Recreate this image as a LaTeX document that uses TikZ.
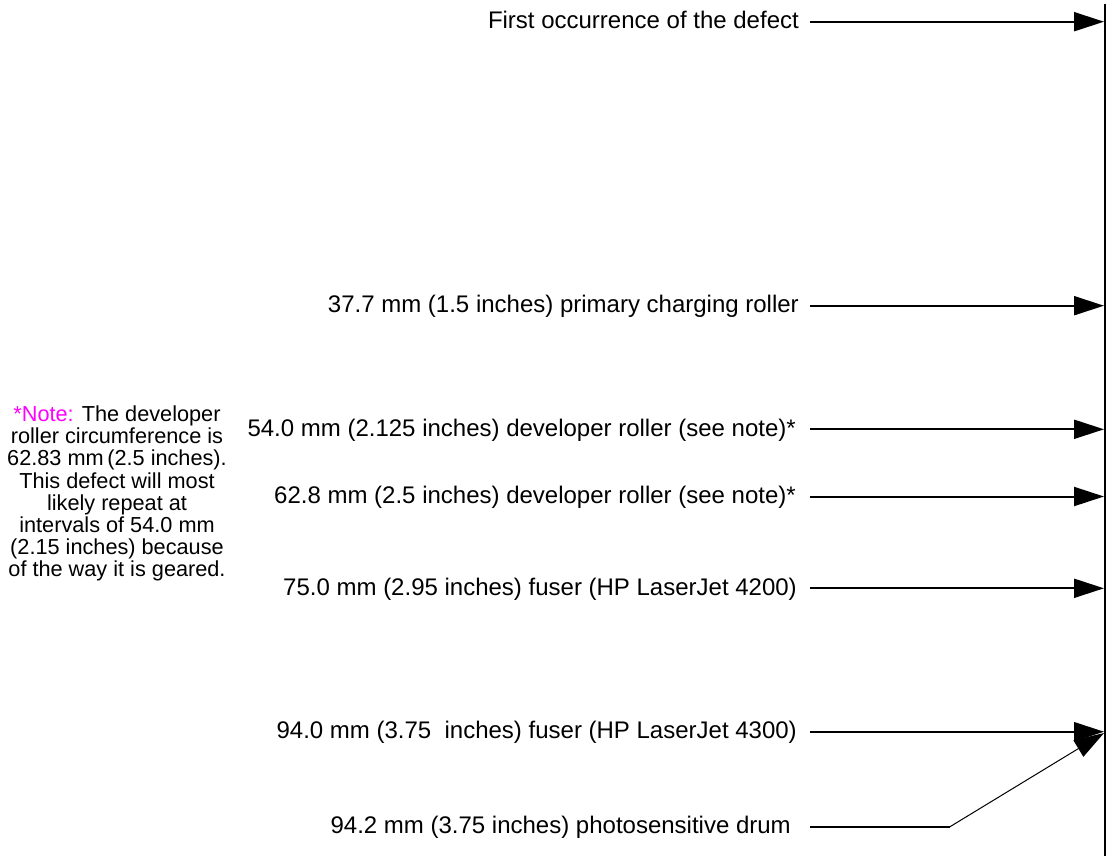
\documentclass[tikz,border=0pt]{standalone}
\usepackage{fontspec}
\setmainfont{Liberation Sans}
\usetikzlibrary{arrows.meta}
\definecolor{notemag}{RGB}{255,0,255}
\begin{document}
\begin{tikzpicture}[x=1pt,y=-1pt,
  lbl/.style={anchor=base east,inner sep=0pt,font=\fontsize{24}{28}\selectfont},
  arr/.style={line width=2pt,-{Triangle[length=30pt,width=19pt]}},
  thinarr/.style={line width=1pt,-{Triangle[length=30pt,width=19pt]}},
  plain/.style={line width=2pt}]
\useasboundingbox (0,0) rectangle (1110,856);
% vertical reference line
\coordinate (vtop) at (1105,4);
\coordinate (vbot) at (1105,856);
\draw[plain] (vtop) -- (vbot);
% labels
\node[lbl] (l1) at (799,28.3) {First occurrence of the defect};
\node[lbl] (l2) at (799,312.3) {37.7 mm (1.5 inches) primary charging roller};
\node[lbl] (l3) at (796,436) {54.0 mm (2.125 inches) developer roller (see note)*};
\node[lbl] (l4) at (796,503) {62.8 mm (2.5 inches) developer roller (see note)*};
\node[lbl] (l5) at (797,595) {75.0 mm (2.95 inches) fuser (HP LaserJet 4200)};
\node[lbl] (l6) at (797,738.3) {94.0 mm (3.75\ \ inches) fuser (HP LaserJet 4300)};
\node[lbl] (l7) at (791,833.3) {94.2 mm (3.75 inches) photosensitive drum};
% line start and end points
\coordinate (s1) at (810,21.7);   \coordinate (t1) at (1104,21.7);
\coordinate (s2) at (810,305.7);  \coordinate (t2) at (1104,305.7);
\coordinate (s3) at (810,429.3);  \coordinate (t3) at (1104,429.3);
\coordinate (s4) at (810,496.5);  \coordinate (t4) at (1104,496.5);
\coordinate (s5) at (810,588.3);  \coordinate (t5) at (1104,588.3);
\coordinate (s6) at (810,731.7);  \coordinate (t6) at (1104,731.7);
\coordinate (s7) at (810,826.7);  \coordinate (b7) at (950,826.7);
\coordinate (t7) at (1104,733);
\draw[arr] (s1) -- (t1);
\draw[arr] (s2) -- (t2);
\draw[arr] (s3) -- (t3);
\draw[arr] (s4) -- (t4);
\draw[arr] (s5) -- (t5);
\draw[arr] (s6) -- (t6);
\draw[plain] (s7) -- (b7);
\draw[thinarr] (b7) -- (t7);
% note
\node[align=center,inner sep=0pt,font=\fontsize{21.7}{22.1}\selectfont] (note) at (117,493.5)
 {{\color{notemag}*Note:} The developer\\
  roller circumference is\\
  62.83 mm\,(2.5 inches).\\
  This defect will most\\
  likely repeat at\\
  intervals of 54.0 mm\\
  (2.15 inches) because\\
  of the way it is geared.};
\end{tikzpicture}
\end{document}
